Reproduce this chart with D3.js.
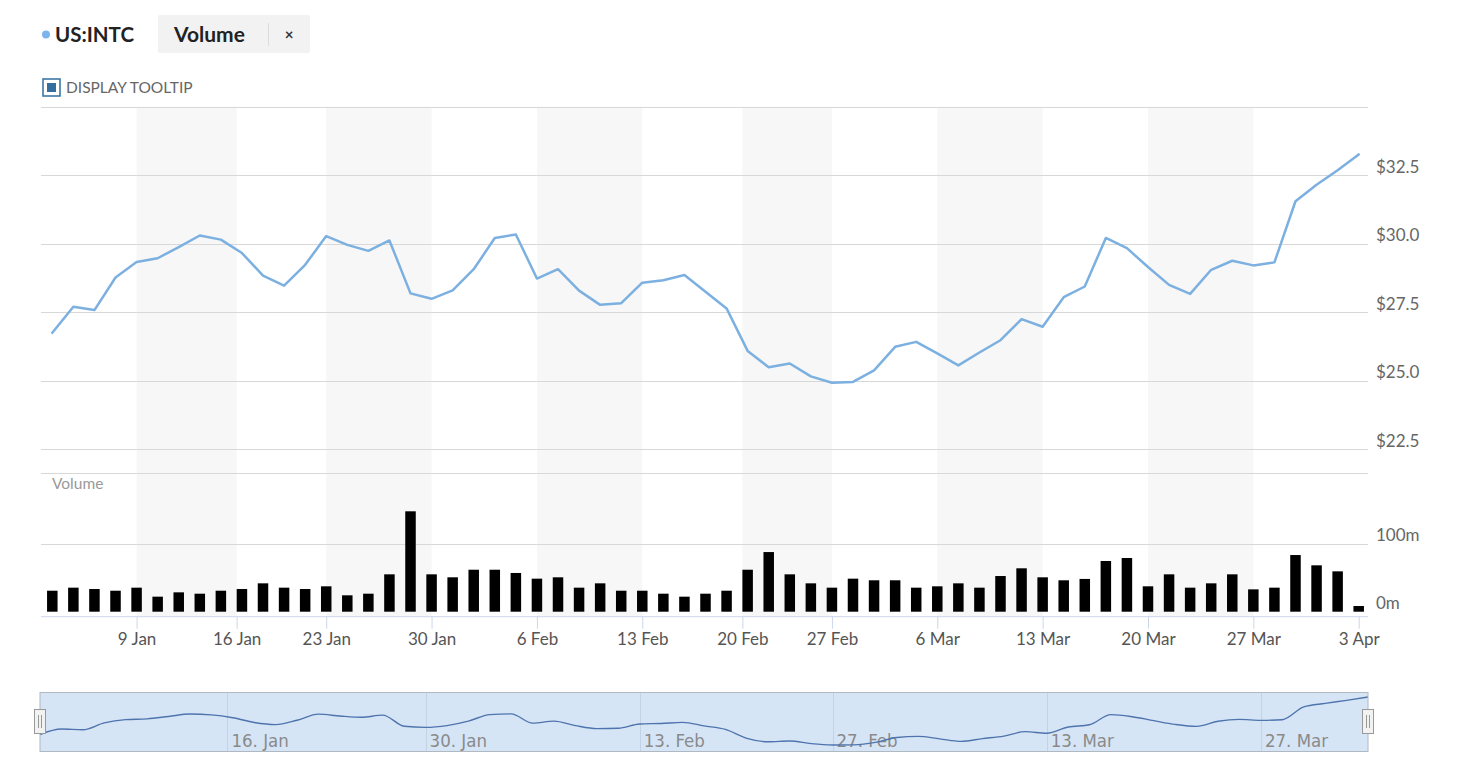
<!DOCTYPE html>
<html>
<head>
<meta charset="utf-8">
<script src="https://cdn.jsdelivr.net/npm/d3@7/dist/d3.min.js"></script>
<style>
  html, body { margin: 0; padding: 0; background: #fff; }
  svg { display: block; font-family: Lato, "Open Sans", sans-serif; }
</style>
</head>
<body>
<svg id="chart" width="1464" height="768"></svg>
<script>
// ---------- DATA ----------
const dates = [
  "2023-01-03","2023-01-04","2023-01-05","2023-01-06","2023-01-09","2023-01-10","2023-01-11","2023-01-12","2023-01-13",
  "2023-01-17","2023-01-18","2023-01-19","2023-01-20","2023-01-23","2023-01-24","2023-01-25","2023-01-26","2023-01-27",
  "2023-01-30","2023-01-31","2023-02-01","2023-02-02","2023-02-03","2023-02-06","2023-02-07","2023-02-08","2023-02-09",
  "2023-02-10","2023-02-13","2023-02-14","2023-02-15","2023-02-16","2023-02-17","2023-02-21","2023-02-22","2023-02-23",
  "2023-02-24","2023-02-27","2023-02-28","2023-03-01","2023-03-02","2023-03-03","2023-03-06","2023-03-07","2023-03-08",
  "2023-03-09","2023-03-10","2023-03-13","2023-03-14","2023-03-15","2023-03-16","2023-03-17","2023-03-20","2023-03-21",
  "2023-03-22","2023-03-23","2023-03-24","2023-03-27","2023-03-28","2023-03-29","2023-03-30","2023-03-31","2023-04-03"
];
const prices = [
  26.75,27.70,27.58,28.77,29.33,29.47,29.88,30.30,30.15,
  29.66,28.84,28.47,29.23,30.28,29.96,29.74,30.12,28.19,
  27.99,28.30,29.07,30.21,30.34,28.73,29.07,28.29,27.77,
  27.83,28.58,28.67,28.86,28.25,27.64,26.09,25.49,25.63,
  25.16,24.93,24.96,25.38,26.24,26.42,26.00,25.56,26.03,
  26.48,27.25,26.97,28.05,28.44,30.21,29.84,29.15,28.50,
  28.17,29.05,29.38,29.21,29.32,31.55,32.15,32.68,33.26
];
const volumes = [ // millions
  31.0,35.5,33.5,31.0,35.5,22.2,28.6,26.6,31.0,
  33.5,41.9,35.5,33.5,37.5,24.2,26.6,55.2,148.3,
  55.2,50.8,62.0,62.0,57.2,48.8,50.8,35.5,41.9,
  31.0,31.0,26.6,22.2,26.6,31.0,62.0,88.1,55.2,
  41.9,35.5,48.8,46.4,46.4,35.5,37.5,41.9,35.5,
  52.7,64.1,50.8,46.4,48.4,74.9,79.3,37.5,55.2,
  35.5,41.9,55.2,33.0,35.5,83.7,68.5,59.6,8.4
];
const tickDates  = ["2023-01-09","2023-01-16","2023-01-23","2023-01-30","2023-02-06","2023-02-13","2023-02-20","2023-02-27","2023-03-06","2023-03-13","2023-03-20","2023-03-27","2023-04-03"];
const tickLabels = ["9 Jan","16 Jan","23 Jan","30 Jan","6 Feb","13 Feb","20 Feb","27 Feb","6 Mar","13 Mar","20 Mar","27 Mar","3 Apr"];
const priceTicks = [22.5, 25.0, 27.5, 30.0, 32.5, 35.0];
const volumeTicks = [0, 100];
const navTickDates  = ["2023-01-16","2023-01-30","2023-02-13","2023-02-27","2023-03-13","2023-03-27"];
const navTickLabels = ["16. Jan","30. Jan","13. Feb","27. Feb","13. Mar","27. Mar"];

// ---------- HELPERS ----------
const parse = d3.utcParse("%Y-%m-%d");
const dateObjs = dates.map(parse);
// ordinal position (fractional trading-day index) of any calendar date
function ordinalIndex(s) {
  const t = parse(s).getTime();
  for (let i = 0; i < dateObjs.length - 1; i++) {
    const a = dateObjs[i].getTime(), b = dateObjs[i + 1].getTime();
    if (t >= a && t < b) return i + (t - a) / (b - a);
  }
  return dateObjs.length - 1;
}
const idx = d3.range(dates.length);

// ---------- LAYOUT ----------
const svg = d3.select("#chart");
const plotL = 41, plotR = 1368;
const priceTop = 106.7, priceBottom = 449.3;
const volTop = 473.3, volBottom = 611.7;
const axisY = 616.7;

const x = d3.scaleLinear().domain([0, dates.length - 1]).range([52.3, 1358.7]);
const yP = d3.scaleLinear().domain([22.5, 35]).range([priceBottom, priceTop]);
const yV = d3.scaleLinear().domain([0, 100]).range([volBottom, 544]);

// ---------- HEADER ----------
svg.append("circle").attr("cx", 46).attr("cy", 34.5).attr("r", 4).attr("fill", "#7cb5ec");
svg.append("text").attr("x", 55).attr("y", 42).attr("font-size", 20.5).attr("font-weight", 700)
  .attr("fill", "#222").text("US:INTC");
svg.append("rect").attr("x", 158).attr("y", 15).attr("width", 152).attr("height", 38).attr("rx", 2)
  .attr("fill", "#f2f2f2");
svg.append("text").attr("x", 174).attr("y", 42).attr("font-size", 21).attr("font-weight", 700)
  .attr("fill", "#222").text("Volume");
svg.append("line").attr("x1", 268.5).attr("x2", 268.5).attr("y1", 23).attr("y2", 46)
  .attr("stroke", "#dcdcdc");
svg.append("text").attr("x", 289).attr("y", 40).attr("font-size", 15).attr("font-weight", 700)
  .attr("text-anchor", "middle").attr("fill", "#333").text("×");

// checkbox
svg.append("rect").attr("x", 43).attr("y", 79).attr("width", 17).attr("height", 17)
  .attr("fill", "#fff").attr("stroke", "#3d77a6").attr("stroke-width", 1.6);
svg.append("rect").attr("x", 47).attr("y", 83).attr("width", 9).attr("height", 9).attr("fill", "#336e9e");
svg.append("text").attr("x", 66).attr("y", 93).attr("font-size", 15.5).attr("fill", "#666")
  .text("DISPLAY TOOLTIP");

// ---------- BANDS ----------
const tickIdx = tickDates.map(ordinalIndex);
const bands = [];
for (let i = 0; i + 1 < tickIdx.length; i += 2) bands.push([tickIdx[i], tickIdx[i + 1]]);
svg.append("g").selectAll("rect").data(bands).join("rect")
  .attr("x", d => x(d[0])).attr("width", d => x(d[1]) - x(d[0]))
  .attr("y", priceTop).attr("height", axisY - priceTop)
  .attr("fill", "#f7f7f7");

// ---------- GRIDLINES ----------
const grid = svg.append("g").attr("stroke", "#d8d8d8").attr("stroke-width", 1);
grid.selectAll("line.p").data(priceTicks).join("line").attr("class", "p")
  .attr("x1", plotL).attr("x2", plotR)
  .attr("y1", d => Math.round(yP(d)) + 0.5).attr("y2", d => Math.round(yP(d)) + 0.5);
grid.append("line").attr("x1", plotL).attr("x2", plotR)
  .attr("y1", Math.round(volTop) + 0.5).attr("y2", Math.round(volTop) + 0.5);
grid.selectAll("line.v").data(volumeTicks.filter(v => v > 0)).join("line").attr("class", "v")
  .attr("x1", plotL).attr("x2", plotR)
  .attr("y1", d => Math.round(yV(d)) + 0.5).attr("y2", d => Math.round(yV(d)) + 0.5);

// ---------- Y LABELS ----------
svg.append("g").selectAll("text").data(priceTicks.filter(d => d < 35)).join("text")
  .attr("x", 1376).attr("y", d => yP(d) - 2.5)
  .attr("font-size", 17).attr("fill", "#666")
  .text(d => "$" + d.toFixed(1));
svg.append("g").selectAll("text").data(volumeTicks).join("text")
  .attr("x", 1376).attr("y", d => yV(d) - 3)
  .attr("font-size", 17).attr("fill", "#666")
  .text(d => d + "m");
svg.append("text").attr("x", 52).attr("y", 489).attr("font-size", 15.5).attr("fill", "#999").text("Volume");

// ---------- VOLUME BARS ----------
const barW = 10.5;
svg.append("g").selectAll("rect").data(idx).join("rect")
  .attr("x", i => x(i) - barW / 2).attr("width", barW)
  .attr("y", i => yV(volumes[i])).attr("height", i => yV(0) - yV(volumes[i]))
  .attr("fill", "#000");

// ---------- PRICE LINE ----------
const line = d3.line().x(i => x(i)).y(i => yP(prices[i]));
svg.append("path").datum(idx).attr("d", line)
  .attr("fill", "none").attr("stroke", "#7cb0e0").attr("stroke-width", 2.5)
  .attr("stroke-linejoin", "round").attr("stroke-linecap", "round");

// ---------- X AXIS ----------
const xAxis = d3.axisBottom(x).tickValues(tickIdx)
  .tickFormat((d, i) => tickLabels[i]).tickSize(12).tickPadding(4);
const gx = svg.append("g").attr("transform", `translate(0,${axisY})`).call(xAxis);
gx.select(".domain").remove();
gx.selectAll(".tick line").attr("stroke", "#ccd6eb");
gx.selectAll(".tick text").attr("font-size", 17).attr("fill", "#555")
  .attr("font-family", "Lato, 'Open Sans', sans-serif");
svg.append("line").attr("x1", plotL).attr("x2", plotR).attr("y1", axisY).attr("y2", axisY)
  .attr("stroke", "#ccd6eb");

// ---------- NAVIGATOR ----------
const navL = 40, navR = 1368, navT = 692.5, navB = 751.5;
const xN = d3.scaleLinear().domain([0, dates.length - 1]).range([navL, navR]);
const yN = d3.scaleLinear().domain([d3.min(prices), d3.max(prices)]).range([745, 697]);
svg.append("rect").attr("x", navL).attr("y", navT).attr("width", navR - navL).attr("height", navB - navT)
  .attr("fill", "#d5e5f6");
const navIdx = navTickDates.map(ordinalIndex);
svg.append("g").selectAll("line").data(navIdx).join("line")
  .attr("x1", d => Math.round(xN(d)) + 0.5).attr("x2", d => Math.round(xN(d)) + 0.5)
  .attr("y1", navT).attr("y2", navB).attr("stroke", "#c3d3e6");
svg.append("g").selectAll("text").data(navIdx).join("text")
  .attr("x", d => xN(d) + 4).attr("y", 747)
  .attr("font-size", 18.5).attr("fill", "#8a8a8a")
  .attr("font-family", "'Liberation Sans Narrow', 'DejaVu Sans Condensed', sans-serif")
  .attr("font-stretch", "condensed")
  .text((d, i) => navTickLabels[i]);
const navLine = d3.line().curve(d3.curveMonotoneX).x(i => xN(i)).y(i => yN(prices[i]));
svg.append("path").datum(idx).attr("d", navLine)
  .attr("fill", "none").attr("stroke", "#4f74ad").attr("stroke-width", 1.4);
svg.append("rect").attr("x", navL).attr("y", navT).attr("width", navR - navL).attr("height", navB - navT)
  .attr("fill", "none").attr("stroke", "#b0b8c2");
// handles
[navL, navR].forEach(hx => {
  const g = svg.append("g");
  g.append("rect").attr("x", hx - 5.5).attr("y", 709.5).attr("width", 11).attr("height", 24)
    .attr("fill", "#f2f2f2").attr("stroke", "#999");
  [-1.5, 1.5].forEach(o => g.append("line").attr("x1", hx + o).attr("x2", hx + o)
    .attr("y1", 715).attr("y2", 728).attr("stroke", "#999"));
});
</script>
</body>
</html>
